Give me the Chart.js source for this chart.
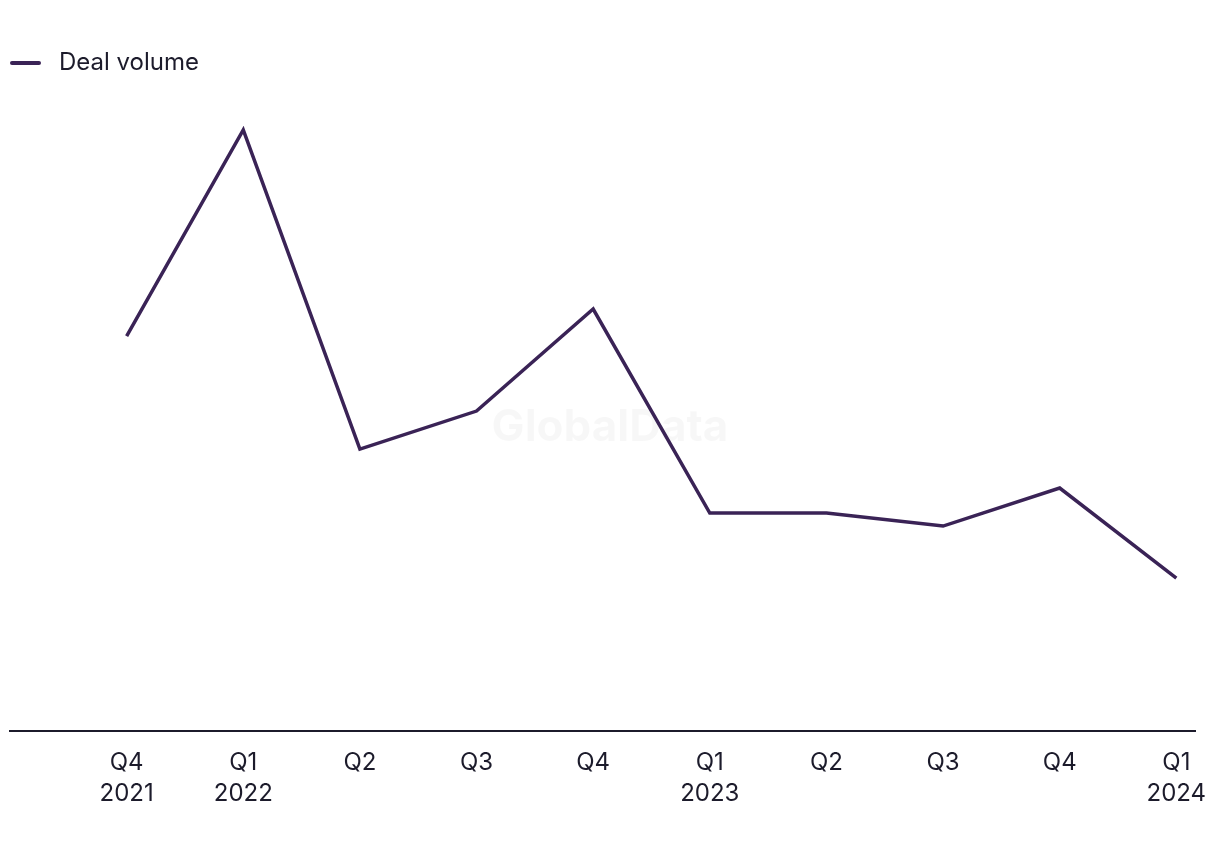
<!DOCTYPE html>
<html>
<head>
<meta charset="utf-8">
<script src="https://cdn.jsdelivr.net/npm/chart.js@4.4.1/dist/chart.umd.min.js"></script>
<style>
  html, body { margin: 0; padding: 0; background: #fff; }
  #wrap { width: 1220px; height: 850px; position: relative; }
</style>
</head>
<body>
<div id="wrap"><canvas id="chart"></canvas></div>
<script>
// quarters, first one at x = 1
var quarterLabels = [["Q4", "2021"], ["Q1", "2022"], ["Q2"], ["Q3"], ["Q4"], ["Q1", "2023"], ["Q2"], ["Q3"], ["Q4"], ["Q1", "2024"]];
var quarterPos = [1, 2, 3, 4, 5, 6, 7, 8, 9, 10];
var dealVolume = [39.5, 60.1, 28.2, 32.0, 42.2, 21.8, 21.8, 20.5, 24.3, 15.3];

var lineColor = '#3a2356';
var textColor = '#1c1b2b';

var points = quarterPos.map(function (x, i) { return { x: x, y: dealVolume[i] }; });

// legend marker: short rounded line with some space after it
var marker = document.createElement('canvas');
marker.width = 37;
marker.height = 8;
var mctx = marker.getContext('2d');
mctx.strokeStyle = lineColor;
mctx.lineWidth = 4;
mctx.lineCap = 'round';
mctx.beginPath();
mctx.moveTo(2, 4);
mctx.lineTo(29, 4);
mctx.stroke();

var watermark = {
    id: 'watermark',
    beforeDatasetsDraw: function (chart) {
        var c = chart.ctx;
        c.save();
        c.font = 'bold 44px Inter';
        c.fillStyle = 'rgba(0,0,0,0.03)';
        c.textAlign = 'center';
        c.textBaseline = 'middle';
        c.fillText('GlobalData', 610, 428);
        c.restore();
    }
};

var ctx = document.getElementById("chart").getContext('2d');
var myChart = new Chart(ctx, {
    type: 'line',
    data: {
        datasets: [{
            label: "Deal volume",
            data: points,
            borderColor: lineColor,
            backgroundColor: lineColor,
            borderWidth: 3.5,
            pointRadius: 0,
            tension: 0
        }]
    },
    options: {
        responsive: true,
        maintainAspectRatio: false,
        animation: false,
        layout: { padding: { left: 10, right: 25, top: 51, bottom: 33 } },
        plugins: {
            legend: {
                align: 'start',
                labels: {
                    usePointStyle: true,
                    pointStyle: marker,
                    pointStyleWidth: 37,
                    padding: 0,
                    color: textColor,
                    font: { family: 'Inter', size: 24 }
                }
            },
            tooltip: { enabled: false }
        },
        scales: {
            x: {
                type: 'linear',
                min: 0,
                max: 10.16,
                afterBuildTicks: function (axis) {
                    axis.ticks = quarterPos.map(function (v) { return { value: v }; });
                },
                ticks: {
                    autoSkip: false,
                    maxRotation: 0,
                    padding: 8,
                    color: textColor,
                    font: { family: 'Inter', size: 24, lineHeight: 1.29 },
                    callback: function (value) {
                        var i = quarterPos.indexOf(value);
                        return i >= 0 ? quarterLabels[i] : '';
                    }
                },
                grid: { display: false },
                border: { display: true, color: textColor, width: 2 }
            },
            y: {
                display: false,
                min: 0,
                max: 64.6
            }
        }
    },
    plugins: [watermark]
});
</script>
</body>
</html>
